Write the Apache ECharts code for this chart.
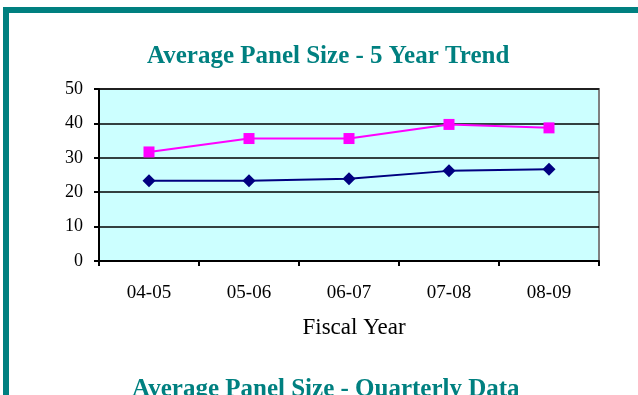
<!DOCTYPE html>
<html>
<head>
<meta charset="utf-8">
<script src="https://cdn.jsdelivr.net/npm/echarts@6/dist/echarts.min.js"></script>
<style>html,body{margin:0;padding:0;background:#fff}#c{width:638px;height:395px}</style>
</head>
<body>
<div id="c"></div>
<script>
var categories = ['04-05', '05-06', '06-07', '07-08', '08-09'];
var seriesPink = [31.7, 35.6, 35.6, 39.7, 38.7];
var seriesNavy = [23.3, 23.3, 23.9, 26.2, 26.7];
var yTicks = [0, 10, 20, 30, 40, 50];

var chart = echarts.init(document.getElementById('c'), null, {renderer: 'canvas'});
var serif = '"Liberation Serif", "Times New Roman", serif';
chart.setOption({
  animation: false,
  title: {
    text: 'Average Panel Size - 5 Year Trend',
    left: 147, top: 44, padding: 0,
    textStyle: {color: '#008080', fontFamily: serif, fontWeight: 'bold', fontSize: 25}
  },
  graphic: [
    {type: 'rect', shape: {x: 3, y: 7, width: 640, height: 6}, style: {fill: '#008080'}},
    {type: 'rect', shape: {x: 3, y: 7, width: 6, height: 400}, style: {fill: '#008080'}},
    {type: 'text', left: 132, top: 377, style: {text: 'Average Panel Size - Quarterly Data', fill: '#008080', font: 'bold 25px ' + serif}}
  ],
  grid: {left: 99, top: 89, width: 500, height: 172, show: true, backgroundColor: '#CCFFFF', borderColor: '#808080', borderWidth: 2},
  xAxis: {
    type: 'category', data: categories, boundaryGap: true,
    name: 'Fiscal Year', nameLocation: 'middle', nameGap: 55,
    nameTextStyle: {fontFamily: serif, fontSize: 23, color: '#000', padding: [0, 0, 0, 10]},
    axisLine: {lineStyle: {color: '#000', width: 2}},
    axisTick: {show: true, length: 5, lineStyle: {color: '#000', width: 2}},
    axisLabel: {fontFamily: serif, fontSize: 19, color: '#000', margin: 23}
  },
  yAxis: {
    type: 'value', min: 0, max: 50, interval: 10,
    axisLine: {show: true, lineStyle: {color: '#000', width: 2}},
    axisTick: {show: true, length: 5, lineStyle: {color: '#000', width: 2}},
    axisLabel: {fontFamily: serif, fontSize: 18, color: '#000', margin: 16,
      formatter: function (v) { return yTicks.indexOf(v) >= 0 ? String(v) : ''; }},
    splitLine: {show: true, lineStyle: {color: '#000', width: 1.5}}
  },
  series: [
    {type: 'line', data: seriesPink, symbol: 'rect', symbolSize: 11,
      lineStyle: {color: '#FF00FF', width: 2}, itemStyle: {color: '#FF00FF'}},
    {type: 'line', data: seriesNavy, symbol: 'diamond', symbolSize: 13,
      lineStyle: {color: '#000080', width: 2}, itemStyle: {color: '#000080'}}
  ]
});
</script>
</body>
</html>
